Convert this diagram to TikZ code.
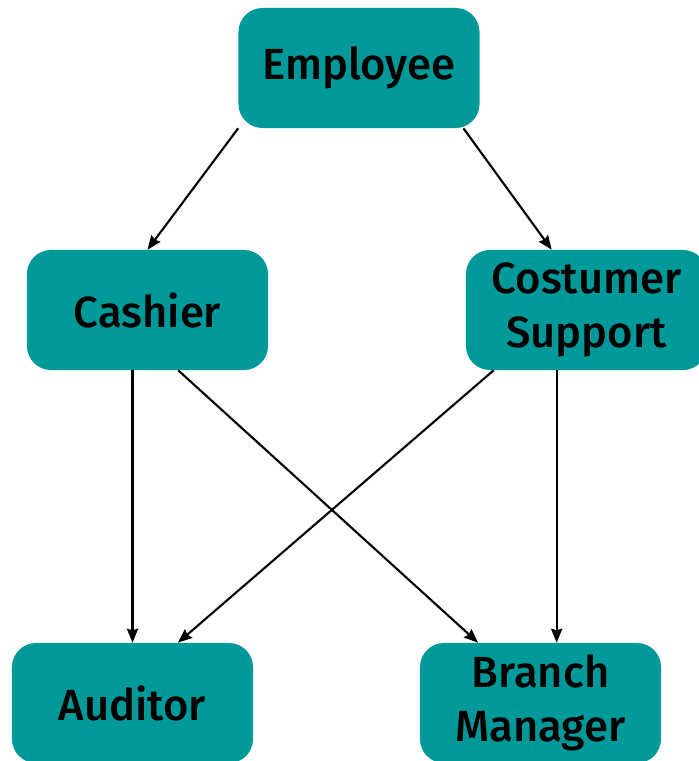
\documentclass[tikz,border=0pt]{standalone}
\usepackage{fontspec}
\setmainfont{Fira Sans}[BoldFont={Fira Sans Medium}]
\usetikzlibrary{positioning, calc, arrows.meta}
\definecolor{boxteal}{HTML}{009999}

\begin{document}
\begin{tikzpicture}[x=0.025cm, y=-0.025cm]

  \tikzset{role/.style={fill=boxteal, rounded corners=0.6cm, minimum width=6.025cm,
      minimum height=3cm, align=center, font=\fontsize{31}{38}\selectfont\bfseries}}
  \tikzset{ptr/.style={line width=1.5pt, -{Stealth[length=0.35cm, width=0.28cm, inset=0.04cm]}}}

  \useasboundingbox (0, 0) rectangle (698, 761);

  % roles
  \node[role] at (359, 68) (emp) {Employee};
  \node[role] at (147.5, 310) (cash) {Cashier};
  \node[role] at (586.5, 310) (cost) {Costumer\\Support};
  \node[role] at (132.5, 703) (aud) {Auditor};
  \node[role] at (540.5, 703) (bm) {Branch\\Manager};

  % inheritance
  \draw[ptr] (emp.south west) -- (cash.north);
  \draw[ptr] (emp.-30) -- (cost.120);
  \draw[ptr] (aud.north |- cash.south) -- (aud.north);
  \draw[ptr] (cash.-63) -- (bm.136);
  \draw[ptr] (cost.213) -- (aud.53);
  \draw[ptr] (bm.75 |- cost.south) -- (bm.75);
\end{tikzpicture}
\end{document}
